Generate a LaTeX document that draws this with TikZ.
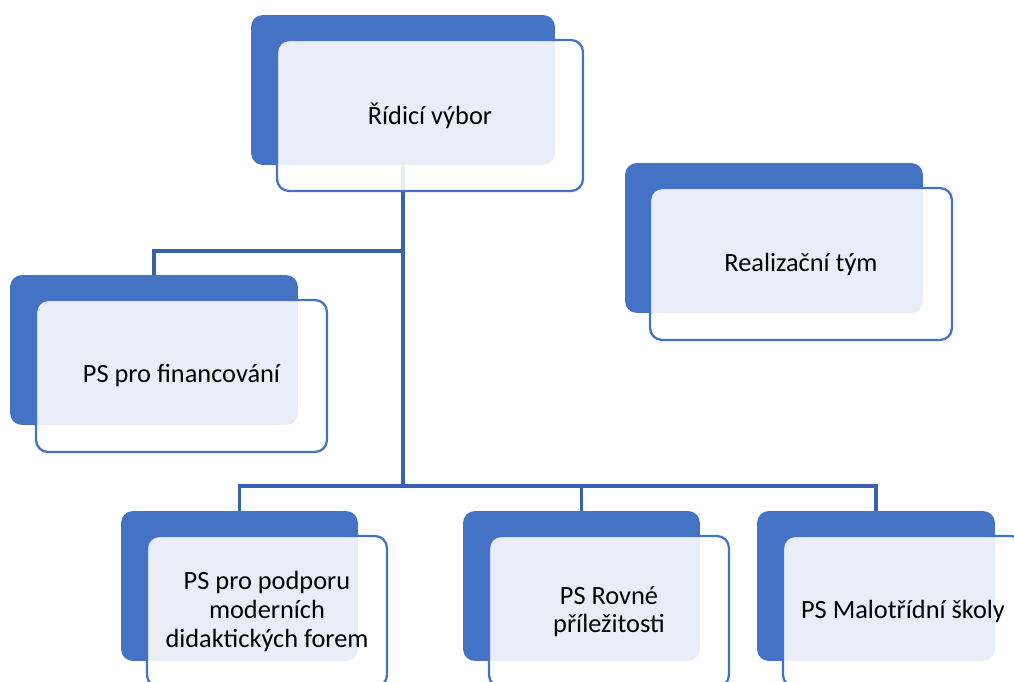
\documentclass[tikz,border=0pt]{standalone}
\usepackage{fontspec}
\setmainfont{Carlito}
\definecolor{boxblue}{HTML}{4472C4}
\definecolor{lineblue}{HTML}{3A62AC}

\begin{document}
\begin{tikzpicture}[x=0.02cm, y=-0.02cm,
  back/.style={rounded corners=0.24cm, fill=boxblue, draw=none, inner sep=0pt},
  front/.style={rounded corners=0.24cm, draw=boxblue, line width=1.3pt, fill=white,
    fill opacity=0.88, text opacity=1, inner sep=0pt, align=center,
    font=\fontsize{15pt}{16.3pt}\selectfont},
  conn/.style={draw=lineblue, line width=2.1pt}]
  \useasboundingbox (0,0) rectangle (1014,682);
  \clip (0,0) rectangle (1014,682);
  \node (ridiciB) [back, minimum width=6.08cm, minimum height=3cm] at (403,90) {};
  \node (realB) [back, minimum width=5.96cm, minimum height=3cm] at (774,238) {};
  \node (financB) [back, minimum width=5.76cm, minimum height=3cm] at (154,350) {};
  \node (podporaB) [back, minimum width=4.74cm, minimum height=3cm] at (239.5,586) {};
  \node (rovneB) [back, minimum width=4.74cm, minimum height=3cm] at (581.5,586) {};
  \node (skolyB) [back, minimum width=4.76cm, minimum height=3cm] at (876,586) {};
  \coordinate (fork) at (403,251);
  \coordinate (hub) at (403,486);
  \draw[conn] (ridiciB.south) -- (hub);
  \draw[conn] (fork) -| (financB.north);
  \draw[conn] (hub) -| (podporaB.north);
  \draw[conn] (hub) -| (rovneB.north);
  \draw[conn] (hub) -| (skolyB.north);
  \node (ridici) [front, minimum width=6.12cm, minimum height=3.02cm] at (430,115.5) {Řídicí výbor};
  \node (real) [front, minimum width=6.04cm, minimum height=3.04cm] at (801,264) {Realizační tým};
  \node (financ) [front, minimum width=5.82cm, minimum height=3.04cm] at (181.5,376) {PS pro financování};
  \node (podpora) [front, minimum width=4.8cm, minimum height=3.02cm] at (267,611.5) {PS pro podporu\\moderních\\didaktických forem};
  \node (rovne) [front, minimum width=4.8cm, minimum height=3.02cm] at (609,611.5) {PS Rovné\\příležitosti};
  \node (skoly) [front, minimum width=4.8cm, minimum height=3.02cm] at (903,611.5) {PS Malotřídní školy};
\end{tikzpicture}
\end{document}
